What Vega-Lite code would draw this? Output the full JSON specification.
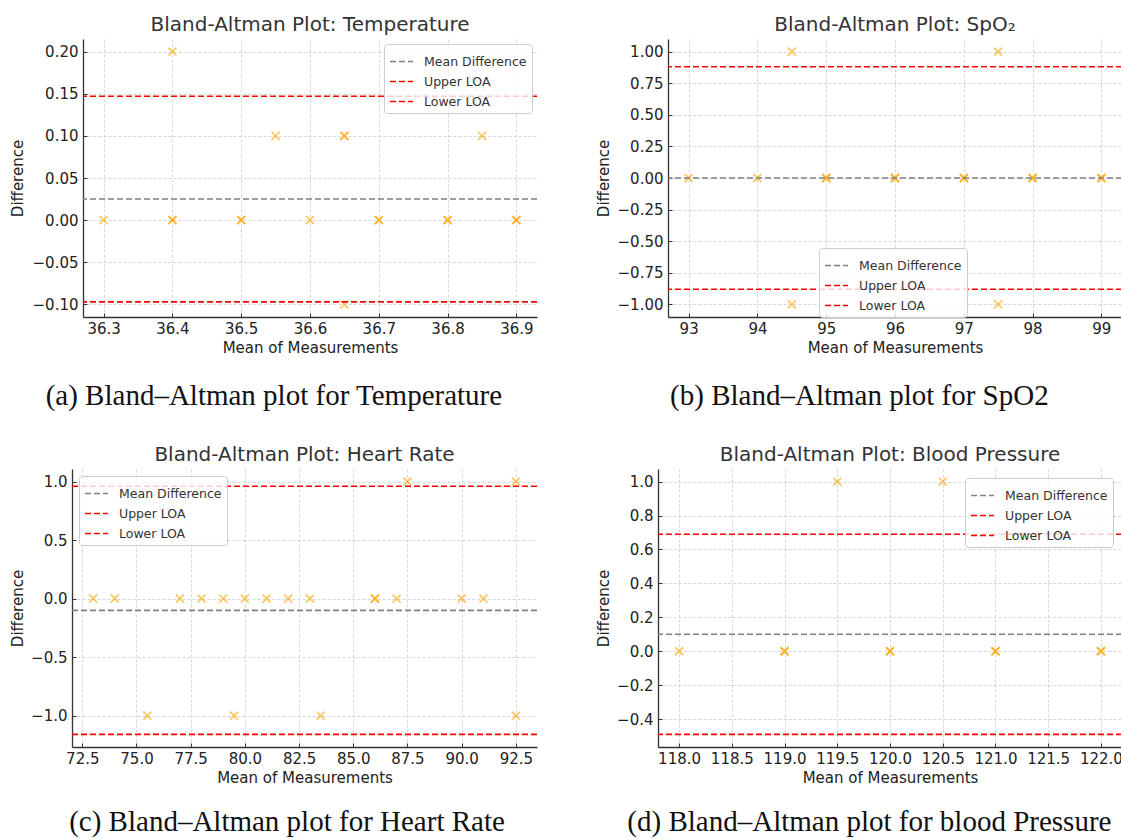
{
  "$schema": "https://vega.github.io/schema/vega-lite/v6.json",
  "padding": {"left": 10, "top": 15, "right": 0, "bottom": 0},
  "background": "white",
  "config": {
    "view": {"stroke": null},
    "font": "DejaVu Sans",
    "axis": {
      "domainColor": "#333333",
      "domainWidth": 1.3,
      "tickColor": "#333333",
      "tickSize": -4,
      "tickWidth": 1,
      "labelPadding": 9,
      "labelOverlap": false,
      "labelFlush": false,
      "labelFont": "DejaVu Sans",
      "labelFontSize": 15,
      "labelColor": "#222222",
      "titleFont": "DejaVu Sans",
      "titleFontSize": 15,
      "titleFontWeight": "normal",
      "titleColor": "#222222",
      "gridColor": "#cccccc",
      "gridDash": [3, 2],
      "gridWidth": 0.8
    },
    "axisX": {"labelPadding": 8, "titlePadding": 4},
    "title": {"font": "DejaVu Sans", "fontSize": 20, "fontWeight": "normal", "color": "#333333", "offset": 4},
    "legend": {
      "title": null,
      "labelFont": "DejaVu Sans",
      "labelFontSize": 12.5,
      "labelColor": "#333333",
      "strokeColor": "#cccccc",
      "fillColor": "rgba(255,255,255,0.8)",
      "cornerRadius": 3,
      "padding": 5,
      "offset": 5,
      "symbolType": "stroke",
      "symbolDash": [6, 3],
      "symbolStrokeWidth": 1.6,
      "symbolSize": 530,
      "rowPadding": 1,
      "labelOffset": 10
    }
  },
  "resolve": {"scale": {"color": "independent"}, "legend": {"color": "independent"}},
  "columns": 2,
  "align": "none",
  "spacing": {"row": 34, "column": 48},
  "concat": [
    {
      "title": {"text": "(a) Bland–Altman plot for Temperature", "orient": "bottom", "anchor": "middle", "font": "Liberation Serif", "fontSize": 29, "color": "#111111", "offset": 27},
      "resolve": {"scale": {"color": "independent"}, "legend": {"color": "independent"}},
      "vconcat": [
        {
          "title": "Bland-Altman Plot: Temperature",
          "width": 454,
          "height": 278,
          "encoding": {
            "y": {"field": "d", "type": "quantitative", "scale": {"domain": [-0.115, 0.215], "nice": false, "zero": false}, "axis": {"title": "Difference", "values": [-0.1, -0.05, 0, 0.05, 0.1, 0.15, 0.2], "format": ".2f", "labelOverlap": false, "minExtent": 50, "maxExtent": 50, "titlePadding": 8}}
          },
          "layer": [
            {
              "data": {"values": [
                {"m": 36.3, "d": 0}, {"m": 36.4, "d": 0.2}, {"m": 36.4, "d": 0}, {"m": 36.4, "d": 0},
                {"m": 36.5, "d": 0}, {"m": 36.5, "d": 0}, {"m": 36.55, "d": 0.1}, {"m": 36.6, "d": 0},
                {"m": 36.65, "d": 0.1}, {"m": 36.65, "d": 0.1}, {"m": 36.65, "d": -0.1}, {"m": 36.7, "d": 0},
                {"m": 36.7, "d": 0}, {"m": 36.8, "d": 0}, {"m": 36.8, "d": 0}, {"m": 36.85, "d": 0.1},
                {"m": 36.9, "d": 0}, {"m": 36.9, "d": 0}
              ]},
              "mark": {"type": "point", "shape": "M-1,-1L1,1M-1,1L1,-1", "filled": false, "color": "orange", "strokeWidth": 1.8, "size": 64, "opacity": 0.6},
              "encoding": {
                "x": {"field": "m", "type": "quantitative", "scale": {"domain": [36.27, 36.93], "nice": false, "zero": false}, "axis": {"title": "Mean of Measurements", "values": [36.3, 36.4, 36.5, 36.6, 36.7, 36.8, 36.9], "format": ".1f"}}
              }
            },
            {
              "data": {"values": [
                {"line": "Mean Difference", "d": 0.025},
                {"line": "Upper LOA", "d": 0.147},
                {"line": "Lower LOA", "d": -0.097}
              ]},
              "mark": {"type": "rule", "strokeDash": [6, 3], "strokeWidth": 1.6},
              "encoding": {
                "color": {"field": "line", "type": "nominal", "scale": {"domain": ["Mean Difference", "Upper LOA", "Lower LOA"], "range": ["#808080", "#ff0000", "#ff0000"]}, "legend": {"orient": "top-right"}}
              }
            }
          ]
        }
      ]
    },
    {
      "title": {"text": "(b) Bland–Altman plot for SpO2", "orient": "bottom", "anchor": "middle", "font": "Liberation Serif", "fontSize": 29, "color": "#111111", "offset": 27, "dx": 0},
      "resolve": {"scale": {"color": "independent"}, "legend": {"color": "independent"}},
      "vconcat": [
        {
          "title": "Bland-Altman Plot: SpO₂",
          "width": 454,
          "height": 278,
          "encoding": {
            "y": {"field": "d", "type": "quantitative", "scale": {"domain": [-1.1, 1.1], "nice": false, "zero": false}, "axis": {"title": "Difference", "values": [-1, -0.75, -0.5, -0.25, 0, 0.25, 0.5, 0.75, 1], "format": ".2f", "labelOverlap": false, "minExtent": 49, "maxExtent": 49, "titlePadding": 8}}
          },
          "layer": [
            {
              "data": {"values": [
                {"m": 93, "d": 0}, {"m": 94, "d": 0}, {"m": 94.5, "d": 1}, {"m": 94.5, "d": -1},
                {"m": 95, "d": 0}, {"m": 95, "d": 0}, {"m": 96, "d": 0}, {"m": 96, "d": 0},
                {"m": 97, "d": 0}, {"m": 97, "d": 0}, {"m": 97.5, "d": 1}, {"m": 97.5, "d": -1},
                {"m": 98, "d": 0}, {"m": 98, "d": 0}, {"m": 99, "d": 0}, {"m": 99, "d": 0}
              ]},
              "mark": {"type": "point", "shape": "M-1,-1L1,1M-1,1L1,-1", "filled": false, "color": "orange", "strokeWidth": 1.8, "size": 64, "opacity": 0.6},
              "encoding": {
                "x": {"field": "m", "type": "quantitative", "scale": {"domain": [92.7, 99.3], "nice": false, "zero": false}, "axis": {"title": "Mean of Measurements", "values": [93, 94, 95, 96, 97, 98, 99], "format": "d"}}
              }
            },
            {
              "data": {"values": [
                {"line": "Mean Difference", "d": 0},
                {"line": "Upper LOA", "d": 0.88},
                {"line": "Lower LOA", "d": -0.88}
              ]},
              "mark": {"type": "rule", "strokeDash": [6, 3], "strokeWidth": 1.6},
              "encoding": {
                "color": {"field": "line", "type": "nominal", "scale": {"domain": ["Mean Difference", "Upper LOA", "Lower LOA"], "range": ["#808080", "#ff0000", "#ff0000"]}, "legend": {"orient": "none", "legendX": 151, "legendY": 209}}
              }
            }
          ]
        }
      ]
    },
    {
      "title": {"text": "(c) Bland–Altman plot for Heart Rate", "orient": "bottom", "anchor": "middle", "font": "Liberation Serif", "fontSize": 29, "color": "#111111", "offset": 23, "dx": 8},
      "resolve": {"scale": {"color": "independent"}, "legend": {"color": "independent"}},
      "vconcat": [
        {
          "title": {"text": "Bland-Altman Plot: Heart Rate", "dx": -5.5},
          "width": 454,
          "height": 278,
          "encoding": {
            "y": {"field": "d", "type": "quantitative", "scale": {"domain": [-1.268, 1.108], "nice": false, "zero": false}, "axis": {"title": "Difference", "values": [-1, -0.5, 0, 0.5, 1], "format": ".1f", "labelOverlap": false, "offset": 11, "minExtent": 39, "maxExtent": 39, "titlePadding": 8}}
          },
          "layer": [
            {
              "data": {"values": [
                {"m": 73, "d": 0}, {"m": 74, "d": 0}, {"m": 75.5, "d": -1}, {"m": 77, "d": 0},
                {"m": 78, "d": 0}, {"m": 79, "d": 0}, {"m": 79.5, "d": -1}, {"m": 80, "d": 0},
                {"m": 81, "d": 0}, {"m": 82, "d": 0}, {"m": 83, "d": 0}, {"m": 83.5, "d": -1},
                {"m": 86, "d": 0}, {"m": 86, "d": 0}, {"m": 87, "d": 0}, {"m": 87.5, "d": 1},
                {"m": 90, "d": 0}, {"m": 91, "d": 0}, {"m": 92.5, "d": 1}, {"m": 92.5, "d": -1}
              ]},
              "mark": {"type": "point", "shape": "M-1,-1L1,1M-1,1L1,-1", "filled": false, "color": "orange", "strokeWidth": 1.8, "size": 64, "opacity": 0.6},
              "encoding": {
                "x": {"field": "m", "type": "quantitative", "scale": {"domain": [72.025, 93.475], "range": [-11, 454], "nice": false, "zero": false}, "axis": {"title": "Mean of Measurements", "values": [72.5, 75, 77.5, 80, 82.5, 85, 87.5, 90, 92.5], "format": ".1f"}}
              }
            },
            {
              "data": {"values": [
                {"line": "Mean Difference", "d": -0.1},
                {"line": "Upper LOA", "d": 0.96},
                {"line": "Lower LOA", "d": -1.16}
              ]},
              "mark": {"type": "rule", "strokeDash": [6, 3], "strokeWidth": 1.6},
              "encoding": {
                "x": {"datum": 72.025, "type": "quantitative", "axis": {"title": "Mean of Measurements", "values": [72.5, 75, 77.5, 80, 82.5, 85, 87.5, 90, 92.5], "format": ".1f"}},
                "x2": {"datum": 93.475},
                "color": {"field": "line", "type": "nominal", "scale": {"domain": ["Mean Difference", "Upper LOA", "Lower LOA"], "range": ["#808080", "#ff0000", "#ff0000"]}, "legend": {"orient": "none", "legendX": -4, "legendY": 7}}
              }
            }
          ]
        }
      ]
    },
    {
      "title": {"text": "(d) Bland–Altman plot for blood Pressure", "orient": "bottom", "anchor": "middle", "font": "Liberation Serif", "fontSize": 29, "color": "#111111", "offset": 23, "dx": 10},
      "resolve": {"scale": {"color": "independent"}, "legend": {"color": "independent"}},
      "vconcat": [
        {
          "title": "Bland-Altman Plot: Blood Pressure",
          "width": 464,
          "height": 278,
          "encoding": {
            "y": {"field": "d", "type": "quantitative", "scale": {"domain": [-0.5645, 1.0745], "nice": false, "zero": false}, "axis": {"title": "Difference", "values": [-0.4, -0.2, 0, 0.2, 0.4, 0.6, 0.8, 1], "format": ".1f", "labelOverlap": false, "minExtent": 39, "maxExtent": 39, "titlePadding": 8}}
          },
          "layer": [
            {
              "data": {"values": [
                {"m": 118, "d": 0}, {"m": 119, "d": 0}, {"m": 119, "d": 0}, {"m": 119.5, "d": 1},
                {"m": 120, "d": 0}, {"m": 120, "d": 0}, {"m": 120.5, "d": 1}, {"m": 121, "d": 0},
                {"m": 121, "d": 0}, {"m": 122, "d": 0}, {"m": 122, "d": 0}
              ]},
              "mark": {"type": "point", "shape": "M-1,-1L1,1M-1,1L1,-1", "filled": false, "color": "orange", "strokeWidth": 1.8, "size": 64, "opacity": 0.6},
              "encoding": {
                "x": {"field": "m", "type": "quantitative", "scale": {"domain": [117.8, 122.2], "nice": false, "zero": false}, "axis": {"title": "Mean of Measurements", "values": [118, 118.5, 119, 119.5, 120, 120.5, 121, 121.5, 122], "format": ".1f"}}
              }
            },
            {
              "data": {"values": [
                {"line": "Mean Difference", "d": 0.1},
                {"line": "Upper LOA", "d": 0.69},
                {"line": "Lower LOA", "d": -0.49}
              ]},
              "mark": {"type": "rule", "strokeDash": [6, 3], "strokeWidth": 1.6},
              "encoding": {
                "color": {"field": "line", "type": "nominal", "scale": {"domain": ["Mean Difference", "Upper LOA", "Lower LOA"], "range": ["#808080", "#ff0000", "#ff0000"]}, "legend": {"orient": "top-right", "offset": 9}}
              }
            }
          ]
        }
      ]
    }
  ]
}
